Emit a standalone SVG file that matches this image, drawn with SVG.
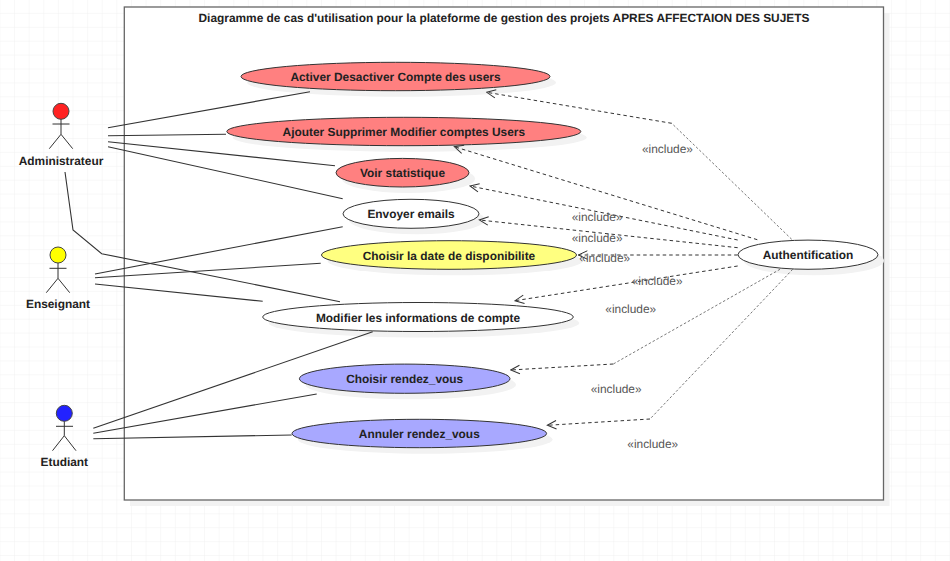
<svg xmlns="http://www.w3.org/2000/svg" width="950" height="561" viewBox="0 0 950 561">
<style>
text{font-family:"Liberation Sans",Arial,sans-serif;text-rendering:geometricPrecision}
.u{font-size:11.9px;font-weight:bold;fill:#222;text-anchor:middle}
.inc{font-size:11.9px;fill:#555}
.sh{fill:#f2f2f2;stroke:none}
.uc{stroke:#333;stroke-width:1}
.a{fill:none;stroke:#333;stroke-width:1.1}
.d{fill:none;stroke:#333;stroke-width:1;stroke-dasharray:3.5 3}
.t{fill:none;stroke:#555;stroke-width:.8;stroke-dasharray:2.5 2}
.st{fill:none;stroke:#333;stroke-width:1}
.r{fill:#ff8080}.y{fill:#ffff80}.b{fill:#a8a8ff}.w{fill:#fff}
</style>
<defs>
<pattern id="grid" patternUnits="userSpaceOnUse" x="0.4" y="0" width="14.615" height="13.9">
<path d="M14.615 0V13.9M0 13.9H14.615" fill="none" stroke="#f1f1f1" stroke-width="1"/>
</pattern>
<marker id="open" markerUnits="userSpaceOnUse" markerWidth="12" markerHeight="12" refX="11" refY="6" orient="auto" viewBox="0 0 12 12">
<path d="M2 1.8L11 6L2 10.2" fill="none" stroke="#333" stroke-width="1"/>
</marker>
</defs>
<rect width="950" height="561" fill="#fff"/>
<rect width="950" height="561" fill="url(#grid)"/>
<g id="frame">
<rect class="sh" x="130" y="13" width="759.5" height="493"/>
<rect x="124.3" y="7" width="759.2" height="493" fill="#fff" stroke="#666" stroke-width="1.3"/>
<text x="504" y="21.5" font-size="11.9" font-weight="bold" fill="#222" text-anchor="middle">Diagramme de cas d'utilisation pour la plateforme de gestion des projets APRES AFFECTAION DES SUJETS</text>
</g>
<g id="actor-administrateur">
<circle cx="61" cy="111.3" r="8" fill="#ff2222" stroke="#444"/>
<path class="st" d="M61 119.3V134.3M52.5 124H69.5M49.3 148.7L61 134.3L72.7 148.7"/>
<text class="u" x="61" y="164.5">Administrateur</text>
</g>
<g id="actor-enseignant">
<circle cx="58" cy="255" r="8" fill="#ffff00" stroke="#444"/>
<path class="st" d="M58 263V278.3M49.5 268.3H66.5M46.3 292.7L58 278.3L69.7 292.7"/>
<text class="u" x="58" y="308">Enseignant</text>
</g>
<g id="actor-etudiant">
<circle cx="64.3" cy="413.3" r="8" fill="#2222ff" stroke="#444"/>
<path class="st" d="M64.3 421.3V435.7M56 426.3H73M52.5 450.7L64.3 435.7L76 450.7"/>
<text class="u" x="64.3" y="466">Etudiant</text>
</g>
<g id="uc-activer">
<ellipse class="sh" cx="401.5" cy="82.5" rx="154.5" ry="14.2"/>
<ellipse class="uc r" cx="395.5" cy="76.5" rx="154.5" ry="14.2"/>
<text class="u" x="395.5" y="81">Activer Desactiver Compte des users</text>
</g>
<g id="uc-ajouter">
<ellipse class="sh" cx="409.8" cy="137.5" rx="177" ry="14.2"/>
<ellipse class="uc r" cx="403.8" cy="131.5" rx="177" ry="14.2"/>
<text class="u" x="403.8" y="136">Ajouter Supprimer Modifier comptes Users</text>
</g>
<g id="uc-voir">
<ellipse class="sh" cx="408.5" cy="178.7" rx="66.5" ry="14.3"/>
<ellipse class="uc r" cx="402.5" cy="172.7" rx="66.5" ry="14.3"/>
<text class="u" x="402.5" y="177.2">Voir statistique</text>
</g>
<g id="uc-envoyer">
<ellipse class="sh" cx="417" cy="219.8" rx="68" ry="14.5"/>
<ellipse class="uc w" cx="411" cy="213.8" rx="68" ry="14.5"/>
<text class="u" x="411" y="218.3">Envoyer emails</text>
</g>
<g id="uc-choisir-date">
<ellipse class="sh" cx="455" cy="261" rx="127.5" ry="14.3"/>
<ellipse class="uc y" cx="449" cy="255" rx="127.5" ry="14.3"/>
<text class="u" x="449" y="259.5">Choisir la date de disponibilite</text>
</g>
<g id="uc-modifier">
<ellipse class="sh" cx="424" cy="323" rx="155.3" ry="14.5"/>
<ellipse class="uc w" cx="418" cy="317" rx="155.3" ry="14.5"/>
<text class="u" x="418" y="321.5">Modifier les informations de compte</text>
</g>
<g id="uc-choisir-rdv">
<ellipse class="sh" cx="410.7" cy="384.7" rx="105.3" ry="14.6"/>
<ellipse class="uc b" cx="404.7" cy="378.7" rx="105.3" ry="14.6"/>
<text class="u" x="404.7" y="383.2">Choisir rendez_vous</text>
</g>
<g id="uc-annuler">
<ellipse class="sh" cx="425.3" cy="439.5" rx="127.3" ry="14.2"/>
<ellipse class="uc b" cx="419.3" cy="433.5" rx="127.3" ry="14.2"/>
<text class="u" x="419.3" y="438">Annuler rendez_vous</text>
</g>
<g id="uc-authentification">
<ellipse class="sh" cx="814" cy="260.7" rx="70" ry="14.6"/>
<ellipse class="uc w" cx="808" cy="254.7" rx="70" ry="14.6"/>
<text class="u" x="808" y="259.2">Authentification</text>
</g>
<g id="connectors">
<path class="a" d="M108 127.7L310 91.7"/>
<path class="a" d="M108 135.7L226 134.3"/>
<path class="a" d="M108 141.7L335 165.7"/>
<path class="a" d="M108 146.7L342.7 198.7"/>
<path class="a" d="M65 172L73 230L101.7 253.7L340 301.7"/>
<path class="a" d="M95 274L342.7 226.7"/>
<path class="a" d="M95 277.7L320.7 263.3"/>
<path class="a" d="M95 284L262.7 301.3"/>
<path class="a" d="M93.3 428.3L372.7 331.7"/>
<path class="a" d="M93.3 433.3L316.7 394"/>
<path class="a" d="M93.3 438.7L291.7 435"/>
<path class="t" d="M791.7 239.3L671.7 123.3"/>
<path class="d" d="M671.7 123.3L486.7 92.3" marker-end="url(#open)"/>
<path class="d" d="M757.3 239.7L454.3 146.7" marker-end="url(#open)"/>
<path class="d" d="M737.7 240L470 186" marker-end="url(#open)"/>
<path class="d" d="M737.7 247.7L479.3 220" marker-end="url(#open)"/>
<path class="d" d="M737.7 255L578.3 255" marker-end="url(#open)"/>
<path class="d" d="M737.7 266L515 300.7" marker-end="url(#open)"/>
<path class="t" d="M780 269.3L613.3 364"/>
<path class="d" d="M613.3 364L510.7 370" marker-end="url(#open)"/>
<path class="t" d="M792.7 269.3L650 419"/>
<path class="d" d="M650 419L547.3 425.3" marker-end="url(#open)"/>
</g>
<g id="include-labels">
<text class="inc" x="642" y="152.5">«include»</text>
<text class="inc" x="571.7" y="221">«include»</text>
<text class="inc" x="571.7" y="241.5">«include»</text>
<text class="inc" x="579.3" y="262">«include»</text>
<text class="inc" x="631.7" y="285">«include»</text>
<text class="inc" x="605.3" y="312.5">«include»</text>
<text class="inc" x="590.7" y="392.7">«include»</text>
<text class="inc" x="627.3" y="447.7">«include»</text>
</g>
</svg>
